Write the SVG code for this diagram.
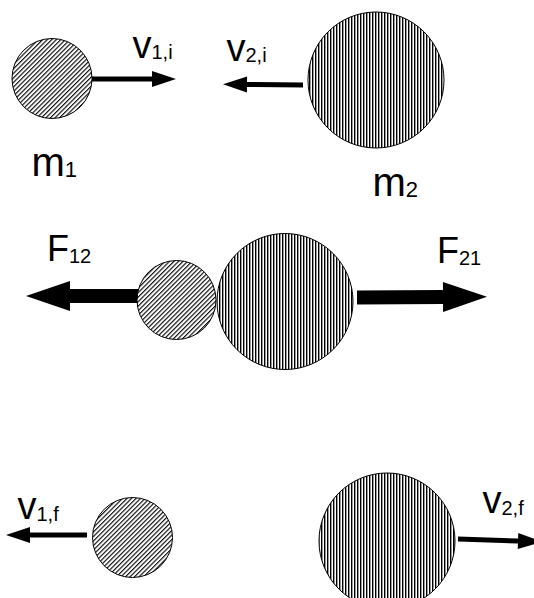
<svg xmlns="http://www.w3.org/2000/svg" width="534" height="598" viewBox="0 0 534 598">
<style>
.lbl{font-family:"Liberation Sans",Arial,sans-serif;font-size:38px;fill:#000}
.mlbl{font-size:40px}
.flbl{font-size:36px}
.sub{font-size:20px}
.msub{font-size:22px}
.ball{stroke:#000;stroke-width:1}
.small{fill:url(#diag)}
.big{fill:url(#vert)}
.thin{stroke:#000;stroke-width:5;fill:none}
.thick{stroke:#000;stroke-width:14;fill:none}
</style>
<defs>
<pattern id="diag" patternUnits="userSpaceOnUse" width="3.2" height="3.2" patternTransform="rotate(45)">
<rect width="3.2" height="3.2" fill="#fff"/>
<line x1="0.6" y1="0" x2="0.6" y2="3.2" stroke="#000" stroke-width="1.1"/>
</pattern>
<pattern id="vert" patternUnits="userSpaceOnUse" width="3" height="3">
<rect width="3" height="3" fill="#fff"/>
<line x1="0.7" y1="0" x2="0.7" y2="3" stroke="#000" stroke-width="1.4"/>
</pattern>
<marker id="head" markerUnits="userSpaceOnUse" markerWidth="24" markerHeight="17" refX="0" refY="8" orient="auto" overflow="visible">
<path d="M0,0 L24,8 L0,16 z" fill="#000"/>
</marker>
<marker id="bighead" markerUnits="userSpaceOnUse" markerWidth="44" markerHeight="30" refX="0" refY="15" orient="auto" overflow="visible">
<path d="M0,0 L44,15 L0,30 z" fill="#000"/>
</marker>
</defs>
<g id="connectors">
<line class="thin" x1="92" y1="79" x2="152" y2="79" marker-end="url(#head)"/>
<line class="thin" x1="303" y1="85" x2="247" y2="84.5" marker-end="url(#head)"/>
<line class="thick" x1="150" y1="296" x2="70" y2="296" marker-end="url(#bighead)"/>
<line class="thick" x1="357" y1="297.5" x2="443" y2="297" marker-end="url(#bighead)"/>
<line class="thin" x1="87" y1="535" x2="30" y2="535" marker-end="url(#head)"/>
<line class="thin" x1="458" y1="539" x2="518" y2="541" marker-end="url(#head)"/>
</g>
<g id="m1-initial">
<circle class="ball small" cx="52" cy="78.5" r="40"/>
<text class="lbl mlbl" x="31.5" y="176">m<tspan class="msub" dy="1">1</tspan></text>
</g>
<g id="m2-initial">
<circle class="ball big" cx="376" cy="80" r="68"/>
<text class="lbl mlbl" x="372.5" y="196">m<tspan class="msub" dy="1">2</tspan></text>
</g>
<g id="v1i"><text class="lbl" x="132.5" y="58">v<tspan class="sub" dy="1">1,i</tspan></text></g>
<g id="v2i"><text class="lbl" x="226.5" y="61">v<tspan class="sub" dy="1">2,i</tspan></text></g>
<g id="m1-collision">
<circle class="ball small" cx="176.5" cy="300" r="39.5"/>
</g>
<g id="m2-collision">
<circle class="ball big" cx="285" cy="301.5" r="68"/>
</g>
<g id="F12"><text class="lbl flbl" x="47" y="261">F<tspan class="sub" dy="2">12</tspan></text></g>
<g id="F21"><text class="lbl flbl" x="437" y="263">F<tspan class="sub" dy="2">21</tspan></text></g>
<g id="m1-final">
<circle class="ball small" cx="132.5" cy="537.5" r="40"/>
</g>
<g id="m2-final">
<circle class="ball big" cx="387" cy="541" r="68"/>
</g>
<g id="v1f"><text class="lbl" x="17.5" y="519">v<tspan class="sub" dy="2">1,f</tspan></text></g>
<g id="v2f"><text class="lbl" x="482.5" y="513">v<tspan class="sub" dy="2">2,f</tspan></text></g>
</svg>
